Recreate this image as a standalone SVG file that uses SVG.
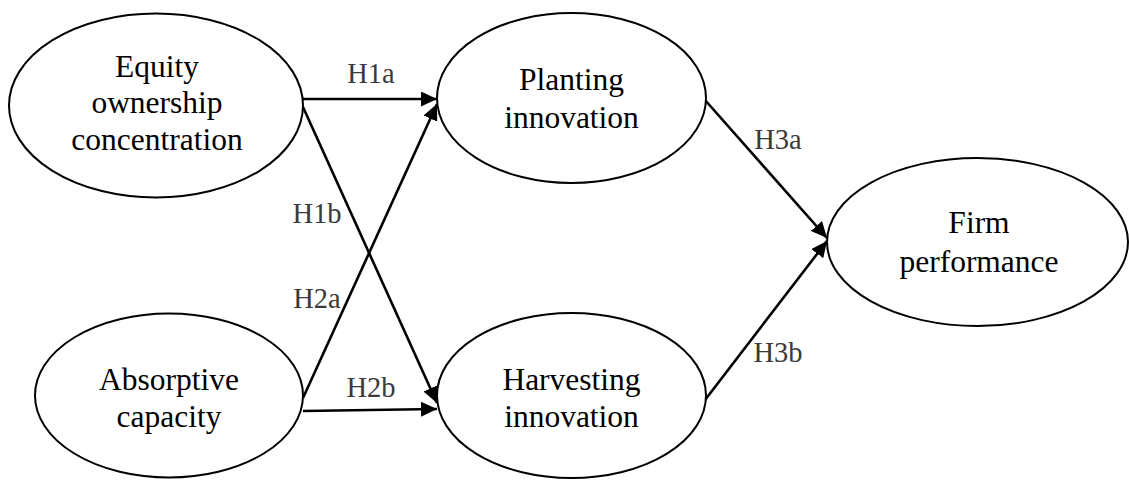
<svg xmlns="http://www.w3.org/2000/svg" width="1129" height="480" viewBox="0 0 1129 480">
<style>
.node ellipse{fill:#fff;stroke:#000;stroke-width:2}
.node text{font-family:"Liberation Serif","Times New Roman",serif;font-size:31.5px;fill:#000;text-anchor:middle}
.conn line{stroke:#000;stroke-width:2.6;fill:none}
.lbl{font-family:"Liberation Serif","Times New Roman",serif;font-size:28.5px;fill:#3a3a3a;text-anchor:middle}
</style>
<defs>
<marker id="ah" markerUnits="userSpaceOnUse" markerWidth="17" markerHeight="15" refX="16" refY="7.5" orient="auto">
<path d="M0,0 L16,7.5 L0,15 z" fill="#000"/>
</marker>
</defs>
<rect width="1129" height="480" fill="#fff"/>
<g id="connectors" class="conn">
<line x1="303" y1="99" x2="437" y2="99" marker-end="url(#ah)"/>
<line x1="303" y1="107" x2="437" y2="403" marker-end="url(#ah)"/>
<line x1="303" y1="398" x2="437" y2="104" marker-end="url(#ah)"/>
<line x1="303" y1="411" x2="437" y2="409" marker-end="url(#ah)"/>
<line x1="705" y1="100" x2="827" y2="238" marker-end="url(#ah)"/>
<line x1="705" y1="400" x2="827" y2="241" marker-end="url(#ah)"/>
<text class="lbl" x="371" y="83">H1a</text>
<text class="lbl" x="317" y="223">H1b</text>
<text class="lbl" x="317" y="308">H2a</text>
<text class="lbl" x="371" y="397">H2b</text>
<text class="lbl" x="778" y="149">H3a</text>
<text class="lbl" x="778" y="362">H3b</text>
</g>
<g id="equity" class="node">
<ellipse cx="156" cy="105.5" rx="147" ry="92"/>
<text x="157" y="77">Equity</text>
<text x="157" y="113">ownership</text>
<text x="157" y="150">concentration</text>
</g>
<g id="absorptive" class="node">
<ellipse cx="169" cy="395.5" rx="134" ry="82"/>
<text x="169" y="390">Absorptive</text>
<text x="169" y="427">capacity</text>
</g>
<g id="planting" class="node">
<ellipse cx="571.5" cy="98" rx="134.5" ry="85"/>
<text x="571.5" y="90">Planting</text>
<text x="571.5" y="128">innovation</text>
</g>
<g id="harvesting" class="node">
<ellipse cx="571.5" cy="395.5" rx="134.5" ry="82.5"/>
<text x="571.5" y="390">Harvesting</text>
<text x="571.5" y="427">innovation</text>
</g>
<g id="firm" class="node">
<ellipse cx="977.5" cy="242" rx="150.5" ry="84"/>
<text x="979" y="233">Firm</text>
<text x="979" y="272">performance</text>
</g>
</svg>
